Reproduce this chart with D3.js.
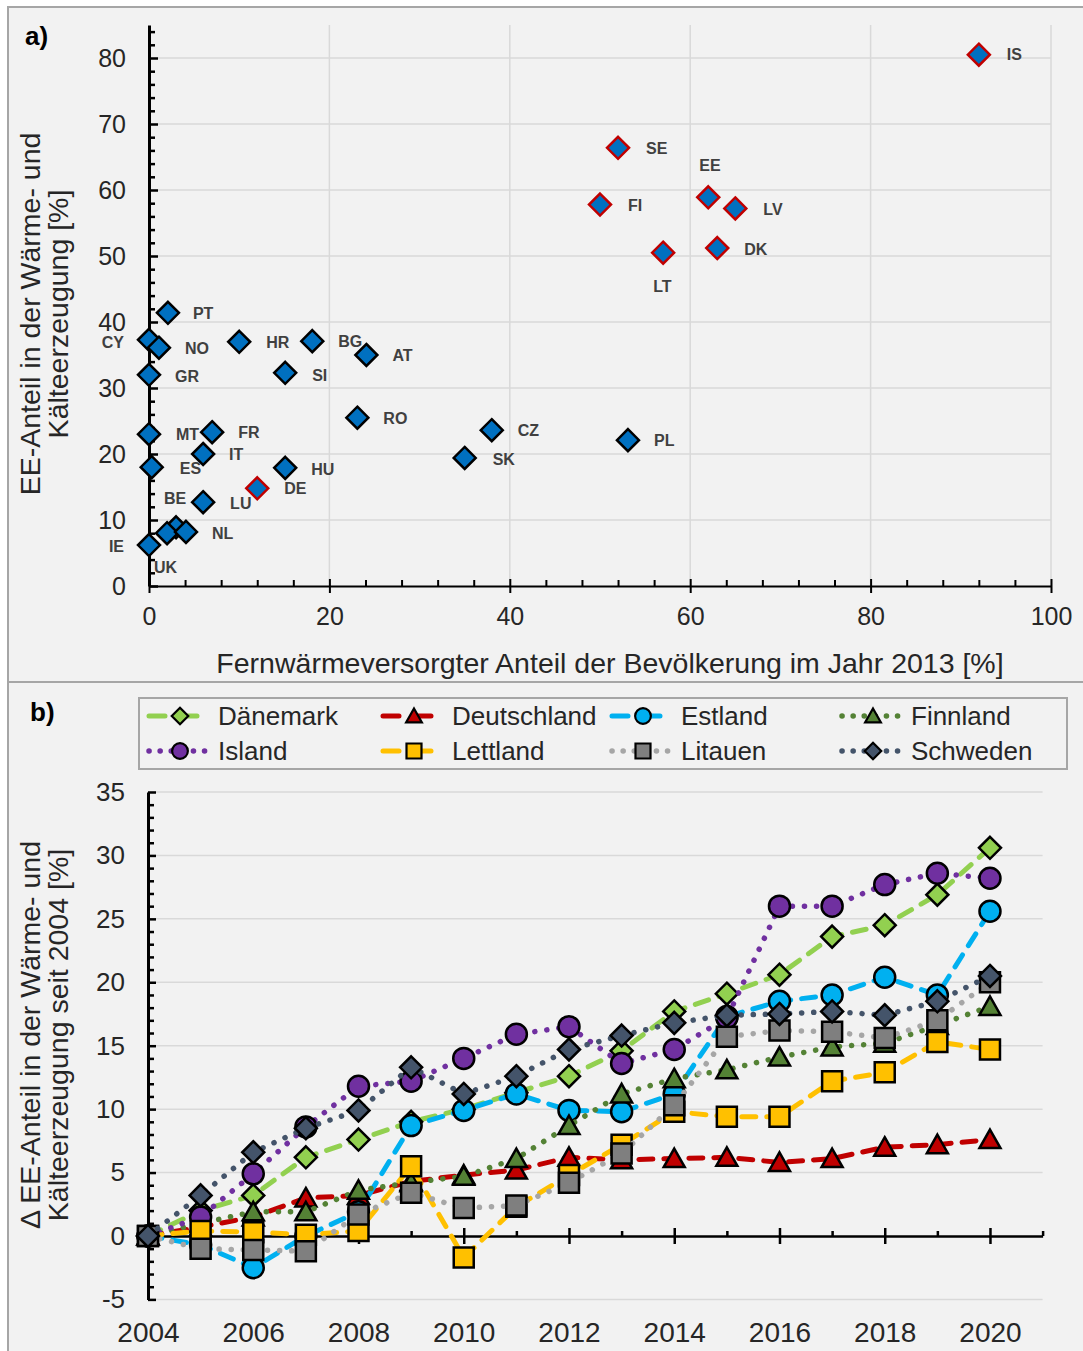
<!DOCTYPE html>
<html>
<head>
<meta charset="utf-8">
<script src="https://cdn.jsdelivr.net/npm/d3@7"></script>
<style>
  body { margin: 0; background: #ffffff; }
  svg { display: block; }
  text { font-family: "Liberation Sans", Arial, sans-serif; }
</style>
</head>
<body>
<svg id="chart" width="1083" height="1351"></svg>
<script>
// ---------- Panel a: RES share in heating & cooling vs. district heating share ----------
const countryCodes = ["IS","SE","EE","LV","FI","LT","DK","PT","CY","NO","HR","BG","AT","GR","SI",
                      "RO","CZ","PL","SK","MT","FR","IT","ES","HU","DE","LU","BE","UK","NL","IE"];
const districtHeatingShare = [92, 52, 62, 65, 50, 57, 63, 2.1, 0, 1.1, 10, 18.1, 24.1, 0, 15.1,
                              23.1, 38, 53.1, 35, 0, 7, 6, 0.3, 15.1, 12, 6, 3, 2, 4.1, 0];
const renewableHeatShare = [80.5, 66.4, 58.9, 57.2, 57.8, 50.5, 51.2, 41.4, 37.3, 36.1, 37.0, 37.1, 35.0, 32.0, 32.3,
                            25.5, 23.6, 22.1, 19.4, 23.0, 23.3, 20.0, 18.0, 17.9, 14.8, 12.7, 8.9, 8.0, 8.2, 6.2];
const outlinedRed = ["IS","SE","EE","LV","FI","LT","DK","DE"];
const xTicksA = [0, 20, 40, 60, 80, 100];
const yTicksA = [0, 10, 20, 30, 40, 50, 60, 70, 80];

// ---------- Panel b: change of RES share since 2004 ----------
const years = [2004,2005,2006,2007,2008,2009,2010,2011,2012,2013,2014,2015,2016,2017,2018,2019,2020];
const seriesNames = ["Dänemark","Deutschland","Estland","Finnland","Island","Lettland","Litauen","Schweden"];
const daenemark   = [0, 2.0, 3.2, 6.2, 7.6, 9.0, 10.0, 11.3, 12.6, 14.6, 17.7, 19.1, 20.6, 23.6, 24.5, 26.9, 30.6];
const deutschland = [0, 0.7, 1.5, 3.0, 3.2, 4.3, 4.8, 5.2, 6.2, 6.0, 6.1, 6.2, 5.8, 6.1, 7.0, 7.2, 7.6];
const estland     = [0, -0.7, -2.5, 0.0, 1.9, 8.7, 9.9, 11.2, 9.9, 9.8, 11.2, 17.3, 18.5, 19.0, 20.4, 19.0, 25.6];
const finnland    = [0, 1.0, 1.9, 1.9, 3.6, 4.2, 4.7, 6.1, 8.7, 11.2, 12.4, 13.1, 14.1, 14.9, 15.2, 16.6, 18.1];
const island      = [0, 1.5, 4.9, 8.6, 11.8, 12.2, 14.0, 15.9, 16.5, 13.6, 14.7, 17.2, 26.0, 26.0, 27.7, 28.6, 28.2];
const lettland    = [0, 0.4, 0.3, 0.1, 0.4, 5.5, -1.7, 2.3, 4.8, 7.2, 9.8, 9.4, 9.4, 12.2, 12.9, 15.3, 14.7];
const litauen     = [0, -1.0, -1.1, -1.2, 1.7, 3.4, 2.2, 2.4, 4.2, 6.5, 10.3, 15.7, 16.2, 16.1, 15.6, 17.0, 20.0];
const schweden    = [0, 3.2, 6.6, 8.5, 9.9, 13.3, 11.2, 12.6, 14.7, 15.8, 16.8, 17.4, 17.5, 17.7, 17.4, 18.5, 20.5];
const xTickLabelsB = [2004, 2006, 2008, 2010, 2012, 2014, 2016, 2018, 2020];
const yTicksB = [-5, 0, 5, 10, 15, 20, 25, 30, 35];

// ---------- styling ----------
const seriesStyle = {
  "Dänemark":    { color: "#92d050", fill: "#92d050", dash: "dashed", marker: "diamond" },
  "Deutschland": { color: "#c00000", fill: "#c00000", dash: "dashed", marker: "triangle" },
  "Estland":     { color: "#00b0f0", fill: "#00b0f0", dash: "dashed", marker: "circle" },
  "Finnland":    { color: "#548235", fill: "#548235", dash: "dotted", marker: "triangle" },
  "Island":      { color: "#7030a0", fill: "#7030a0", dash: "dotted", marker: "circle" },
  "Lettland":    { color: "#ffc000", fill: "#ffc000", dash: "dashed", marker: "square" },
  "Litauen":     { color: "#a6a6a6", fill: "#7f7f7f", dash: "dotted", marker: "square" },
  "Schweden":    { color: "#44546a", fill: "#44546a", dash: "dotted", marker: "diamond" }
};
const seriesValues = [daenemark, deutschland, estland, finnland, island, lettland, litauen, schweden];

// label placement for the country codes: [dx, dy, anchor]
const labelPlacement = {
  IS: [28, 0, "start"], SE: [28, 0, "start"], EE: [-9, -32, "start"], LV: [28, 1, "start"],
  FI: [28, 1, "start"], LT: [-10, 34, "start"], DK: [27, 1, "start"], PT: [25, 0, "start"],
  CY: [-25, 2, "end"], NO: [26, 0, "start"], HR: [27, 0, "start"], BG: [26, 0, "start"],
  AT: [26, 0, "start"], GR: [26, 1, "start"], SI: [27, 2, "start"], RO: [26, 1, "start"],
  CZ: [26, 0, "start"], PL: [26, 0, "start"], SK: [28, 1, "start"], MT: [27, 0, "start"],
  FR: [26, 0, "start"], IT: [26, 0, "start"], ES: [28, 1, "start"], HU: [26, 1, "start"],
  DE: [27, 0, "start"], LU: [27, 1, "start"], BE: [-12, -29, "start"], UK: [-13, 34, "start"],
  NL: [26, 1, "start"], IE: [-25, 1, "end"]
};

const textColor = "#262626";
const gridColor = "#d9d9d9";
const svg = d3.select("#chart");

// frame and panel background
svg.append("rect").attr("x", 8).attr("y", 7).attr("width", 1083).attr("height", 1351)
  .attr("fill", "#f2f2f2").attr("stroke", "#a6a6a6").attr("stroke-width", 2);
svg.append("line").attr("x1", 8).attr("x2", 1083).attr("y1", 682).attr("y2", 682)
  .attr("stroke", "#a6a6a6").attr("stroke-width", 2);

// marker shapes
function markerPath(kind, s) {
  if (kind === "diamond") return `M0,${-11*s}L${11*s},0L0,${11*s}L${-11*s},0Z`;
  if (kind === "triangle") return `M0,${-10*s}L${10.5*s},${8.5*s}L${-10.5*s},${8.5*s}Z`;
  if (kind === "square") return `M${-10*s},${-10*s}H${10*s}V${10*s}H${-10*s}Z`;
  const r = 10.5 * s;
  return `M${r},0A${r},${r} 0 1,1 ${-r},0A${r},${r} 0 1,1 ${r},0Z`;
}
function dashArray(kind) { return kind === "dashed" ? "14,11" : "0.1,12"; }
function dashWidth(kind) { return kind === "dashed" ? 5 : 5.5; }

// ======================= Panel a =======================
const xA = d3.scaleLinear([0, 100], [149, 1051]);
const yA = d3.scaleLinear([0, 85], [586, 25]);

const gA = svg.append("g");
gA.append("g").selectAll("line").data(yTicksA.filter(v => v > 0)).join("line")
  .attr("x1", xA(0)).attr("x2", xA(100)).attr("y1", d => yA(d)).attr("y2", d => yA(d))
  .attr("stroke", gridColor).attr("stroke-width", 1.5);
gA.append("g").selectAll("line").data(xTicksA.filter(v => v > 0)).join("line")
  .attr("x1", d => xA(d)).attr("x2", d => xA(d)).attr("y1", yA(0)).attr("y2", yA(85))
  .attr("stroke", gridColor).attr("stroke-width", 1.5);

// y axis
const yAxisA = gA.append("g").attr("transform", `translate(${xA(0)},0)`)
  .call(d3.axisLeft(yA).tickValues(yTicksA).tickFormat(String).tickSize(9).tickSizeOuter(0).tickPadding(14));
yAxisA.selectAll(".tick line").attr("x2", 9).attr("stroke-width", 2.5);
gA.append("g").attr("transform", `translate(${xA(0)},0)`)
  .call(d3.axisRight(yA).tickValues(d3.range(2, 85, 2).filter(v => v % 10 !== 0)).tickSize(6).tickSizeOuter(0).tickFormat(""))
  .call(g => g.select(".domain").remove())
  .selectAll(".tick line").attr("stroke-width", 2.5);
yAxisA.select(".domain").attr("stroke-width", 3);

// x axis
const xAxisA = gA.append("g").attr("transform", `translate(0,${yA(0)})`)
  .call(d3.axisBottom(xA).tickValues(xTicksA).tickFormat(String).tickSize(7).tickSizeOuter(0).tickPadding(14));
xAxisA.selectAll(".tick line").attr("y1", -7).attr("stroke-width", 2);
gA.append("g").attr("transform", `translate(0,${yA(0)})`)
  .call(d3.axisTop(xA).tickValues(d3.range(4, 100, 4).filter(v => v % 20 !== 0)).tickSize(6).tickSizeOuter(0).tickFormat(""))
  .call(g => g.select(".domain").remove())
  .selectAll(".tick line").attr("stroke-width", 2);
xAxisA.select(".domain").attr("stroke-width", 2);

[yAxisA, xAxisA].forEach(ax => ax.selectAll(".tick text")
  .attr("font-size", 25).attr("fill", textColor).attr("font-family", "Liberation Sans, Arial, sans-serif"));

// points
const pointsA = countryCodes.map((c, i) => ({ code: c, x: districtHeatingShare[i], y: renewableHeatShare[i] }));
gA.append("g").selectAll("path").data(pointsA).join("path")
  .attr("transform", d => `translate(${xA(d.x)},${yA(d.y)})`)
  .attr("d", markerPath("diamond", 1))
  .attr("fill", "#0070c0")
  .attr("stroke", d => outlinedRed.includes(d.code) ? "#c00000" : "#000000")
  .attr("stroke-width", 2.5).attr("stroke-linejoin", "miter");
gA.append("g").selectAll("text").data(pointsA).join("text")
  .attr("x", d => xA(d.x) + labelPlacement[d.code][0])
  .attr("y", d => yA(d.y) + labelPlacement[d.code][1])
  .attr("dy", "0.36em")
  .attr("text-anchor", d => labelPlacement[d.code][2])
  .attr("font-size", 16).attr("font-weight", "bold").attr("fill", "#404040")
  .text(d => d.code);

// titles
svg.append("text").attr("x", 25).attr("y", 45).attr("font-size", 26).attr("font-weight", "bold")
  .attr("fill", "#000").text("a)");
svg.append("text").attr("x", 610).attr("y", 673).attr("text-anchor", "middle")
  .attr("font-size", 28.5).attr("fill", textColor)
  .text("Fernwärmeversorgter Anteil der Bevölkerung im Jahr 2013 [%]");
const yTitleA = svg.append("text").attr("transform", "translate(0,314) rotate(-90)")
  .attr("text-anchor", "middle").attr("font-size", 28.5).attr("fill", textColor);
yTitleA.append("tspan").attr("x", 0).attr("y", 40).text("EE-Anteil in der Wärme- und");
yTitleA.append("tspan").attr("x", 0).attr("y", 68).text("Kälteerzeugung [%]");

// ======================= Panel b =======================
const xB = d3.scaleLinear([2004, 2021], [148, 1042.6]);
const yB = d3.scaleLinear([-5, 35], [1299.4, 792]);
const gB = svg.append("g");

gB.append("g").selectAll("line").data(yTicksB.filter(v => v !== 0)).join("line")
  .attr("x1", xB(2004)).attr("x2", xB(2021)).attr("y1", d => yB(d)).attr("y2", d => yB(d))
  .attr("stroke", gridColor).attr("stroke-width", 1.5);

const yAxisB = gB.append("g").attr("transform", `translate(${xB(2004)},0)`)
  .call(d3.axisLeft(yB).tickValues(yTicksB).tickFormat(String).tickSize(8).tickSizeOuter(0).tickPadding(15));
yAxisB.selectAll(".tick line").attr("x2", 8).attr("stroke-width", 2.5);
yAxisB.select(".domain").attr("stroke-width", 3);
gB.append("g").attr("transform", `translate(${xB(2004)},0)`)
  .call(d3.axisRight(yB).tickValues(d3.range(-4, 35, 1).filter(v => v % 5 !== 0)).tickSize(6).tickSizeOuter(0).tickFormat(""))
  .call(g => g.select(".domain").remove())
  .selectAll(".tick line").attr("stroke-width", 2.5);

const xAxisB = gB.append("g").attr("transform", `translate(0,${yB(0)})`)
  .call(d3.axisBottom(xB).tickValues(xTickLabelsB).tickFormat(String).tickSize(8).tickSizeOuter(0).tickPadding(78));
xAxisB.selectAll(".tick line").attr("y1", -8).attr("stroke-width", 2.5);
xAxisB.select(".domain").attr("stroke-width", 2.5);
gB.append("g").attr("transform", `translate(0,${yB(0)})`)
  .call(d3.axisTop(xB).tickValues([2005,2007,2009,2011,2013,2015,2017,2019,2021]).tickSize(5).tickSizeOuter(0).tickFormat(""))
  .call(g => g.select(".domain").remove())
  .selectAll(".tick line").attr("stroke-width", 2.5);

yAxisB.selectAll(".tick text").attr("font-size", 26).attr("fill", textColor)
  .attr("font-family", "Liberation Sans, Arial, sans-serif");
xAxisB.selectAll(".tick text").attr("font-size", 28).attr("fill", textColor)
  .attr("font-family", "Liberation Sans, Arial, sans-serif");

// series: line then markers, in legend order
const lineGen = d3.line().x(d => xB(d.year)).y(d => yB(d.v));
seriesNames.forEach((name, si) => {
  const st = seriesStyle[name];
  const pts = years.map((yr, i) => ({ year: yr, v: seriesValues[si][i] }));
  const g = gB.append("g");
  g.append("path").datum(pts).attr("d", lineGen).attr("fill", "none")
    .attr("stroke", st.color).attr("stroke-width", dashWidth(st.dash))
    .attr("stroke-dasharray", dashArray(st.dash)).attr("stroke-linecap", "round").attr("stroke-linejoin", "round");
  g.selectAll("path.m").data(pts).join("path").attr("class", "m")
    .attr("transform", d => `translate(${xB(d.year)},${yB(d.v)})`)
    .attr("d", markerPath(st.marker, 1))
    .attr("fill", st.fill).attr("stroke", "#000").attr("stroke-width", 2.5);
});

// legend
svg.append("rect").attr("x", 139).attr("y", 698).attr("width", 928).attr("height", 71)
  .attr("fill", "none").attr("stroke", "#a6a6a6").attr("stroke-width", 2);
const legendCols = [147, 381, 610, 840];
const legendRows = [716, 751];
seriesNames.forEach((name, i) => {
  const st = seriesStyle[name];
  const lx = legendCols[i % 4], ly = legendRows[Math.floor(i / 4)];
  const g = svg.append("g");
  g.append("line").attr("x1", lx + 2).attr("x2", lx + 63).attr("y1", ly).attr("y2", ly)
    .attr("stroke", st.color).attr("stroke-width", dashWidth(st.dash))
    .attr("stroke-dasharray", st.dash === "dashed" ? "16,16" : "0.1,11").attr("stroke-linecap", "round");
  g.append("path").attr("transform", `translate(${lx + 33},${ly})`)
    .attr("d", markerPath(st.marker, 0.75))
    .attr("fill", st.fill).attr("stroke", "#000").attr("stroke-width", 2.2);
  g.append("text").attr("x", lx + 71).attr("y", ly).attr("dy", "0.36em")
    .attr("font-size", 26).attr("fill", textColor).text(name);
});

svg.append("text").attr("x", 30).attr("y", 721).attr("font-size", 26).attr("font-weight", "bold")
  .attr("fill", "#000").text("b)");
const yTitleB = svg.append("text").attr("transform", "translate(0,1035) rotate(-90)")
  .attr("text-anchor", "middle").attr("font-size", 28.5).attr("fill", textColor);
yTitleB.append("tspan").attr("x", 0).attr("y", 40).text("Δ EE-Anteil in der Wärme- und");
yTitleB.append("tspan").attr("x", 0).attr("y", 68).text("Kälteerzeugung seit 2004 [%]");
</script>
</body>
</html>
